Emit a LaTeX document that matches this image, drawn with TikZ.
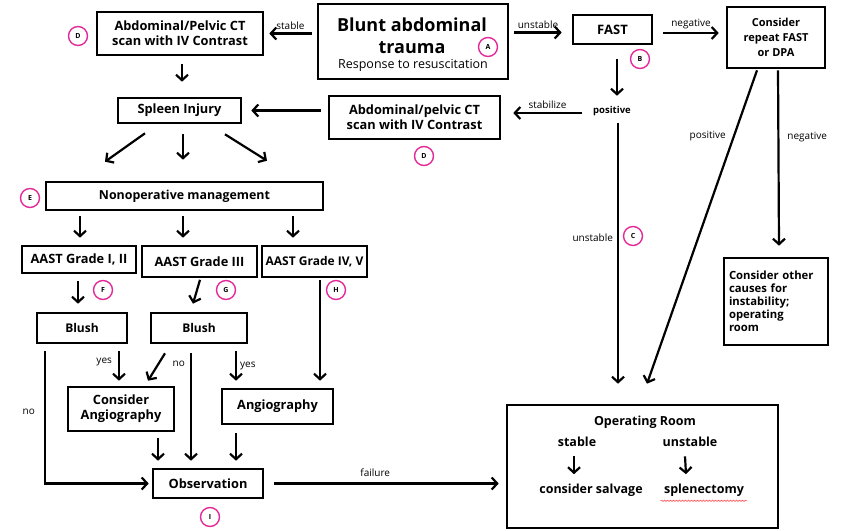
\documentclass[tikz,border=0pt]{standalone}
\usepackage{fontspec}
\setmainfont{Open Sans}
\usetikzlibrary{arrows.meta, decorations.pathmorphing}
\definecolor{tagpink}{RGB}{226, 42, 152}

\begin{document}
\begin{tikzpicture}[x=1pt, y=-1pt,
    box/.style={draw, line width=2.6pt, align=center, inner sep=0pt, font=\fontsize{12.8}{15}\selectfont\bfseries},
    arr/.style={line width=2.2pt, -{Straight Barb[length=5.5pt, width=12pt]}},
    lbl/.style={font=\fontsize{10}{11}\selectfont, inner sep=1pt},
    ortext/.style={font=\fontsize{12.5}{14}\selectfont\bfseries},
    tag/.style={circle, draw=tagpink, line width=1.4pt, minimum size=19pt, inner sep=0pt, font=\fontsize{7}{7}\selectfont\bfseries}]
\useasboundingbox (0,0) rectangle (848,530);

% boxes
\node[box, minimum width=166pt, minimum height=43pt] (ct1) at (180,33.5) {Abdominal/Pelvic CT\\scan with IV Contrast};
\node[box, minimum width=190pt, minimum height=75pt] (blunt) at (413,41.5) {};
\node[font=\fontsize{18}{22}\selectfont\bfseries, align=center] (bluntttl) at (412,36) {Blunt abdominal\\trauma};
\node[font=\fontsize{12.5}{14}\selectfont] (bluntsub) at (413,65) {Response to resuscitation};
\node[box, minimum width=79pt, minimum height=29pt, font=\fontsize{13}{15}\selectfont\bfseries] (fast) at (612.5,29.5) {FAST};
\node[box, minimum width=98pt, minimum height=61pt, font=\fontsize{11}{15}\selectfont\bfseries] (rep) at (776,37.5) {Consider\\repeat FAST\\or DPA};
\node[font=\fontsize{9.5}{10}\selectfont\bfseries] (pos) at (612,111) {positive};
\node[box, minimum width=171pt, minimum height=43pt] (ct2) at (414.5,117.5) {Abdominal/pelvic CT\\scan with IV Contrast};
\node[box, minimum width=123pt, minimum height=25pt] (spleen) at (179.5,110.5) {Spleen Injury};
\node[box, minimum width=277pt, minimum height=28pt, font=\fontsize{12.4}{14}\selectfont\bfseries] (nonop) at (184.5,196) {Nonoperative management};
\node[box, minimum width=114pt, minimum height=27pt] (g12) at (79,259.5) {AAST Grade I, II};
\node[box, minimum width=115pt, minimum height=31pt] (g3) at (199.5,261.5) {AAST Grade III};
\node[box, minimum width=105pt, minimum height=31pt, font=\fontsize{12}{15}\selectfont\bfseries] (g45) at (314.5,261.5) {AAST Grade IV, V};
\node[box, minimum width=90pt, minimum height=30pt, font=\fontsize{12}{15}\selectfont\bfseries] (blush1) at (82,328) {Blush};
\node[box, minimum width=96pt, minimum height=30pt, font=\fontsize{12}{15}\selectfont\bfseries] (blush2) at (199,328) {Blush};
\node[box, minimum width=106pt, minimum height=44pt] (cangio) at (121,409) {Consider\\Angiography};
\node[box, minimum width=111pt, minimum height=35pt] (angio) at (277.5,406.5) {Angiography};
\node[box, minimum width=110pt, minimum height=29pt] (obs) at (208,483.5) {Observation};
\node[box, minimum width=104pt, minimum height=87pt, text width=94pt, align=left, font=\fontsize{11.3}{13}\selectfont\bfseries] (other) at (776,301.5) {Consider other\\causes for\\instability;\\operating\\room};
\node[box, minimum width=271pt, minimum height=123pt] (oroom) at (642.5,466.5) {};
\node[ortext] (ortitle) at (645,422) {Operating Room};
\node[ortext] (orstab) at (577,442) {stable};
\node[ortext] (orunst) at (690,442) {unstable};
\node[ortext] (salv) at (591,490) {consider salvage};
\node[ortext] (splen) at (704,490) {splenectomy};
\draw[red!75, line width=0.5pt, decorate, decoration={snake, amplitude=0.7pt, segment length=3pt}]
    ([yshift=-1pt]splen.south west) -- ([yshift=-1pt]splen.south east);

% tags
\node[tag] (tagA) at (488,47) {A};
\node[tag] (tagB) at (640,59) {B};
\node[tag] (tagC) at (633,236) {C};
\node[tag] (tagD) at (78,36) {D};
\node[tag] (tagDb) at (424,156) {D};
\node[tag] (tagE) at (30,198) {E};
\node[tag] (tagF) at (103,290) {F};
\node[tag] (tagG) at (226,290) {G};
\node[tag] (tagH) at (336,290) {H};
\node[tag] (tagI) at (210,517) {I};

% top row
\draw[arr] ([xshift=-5pt]ct1.east -| blunt.west) -- ([xshift=5pt]ct1.east) node[midway, above=2pt, lbl] {stable};
\draw[arr] ([xshift=5pt,yshift=-3pt]fast.west -| blunt.east) -- ([xshift=-10pt,yshift=-3pt]fast.west) node[midway, above=2pt, lbl] {unstable};
\draw[arr] ([xshift=10pt,yshift=-3.5pt]fast.east) -- ([xshift=-7pt,yshift=-3.5pt]fast.east -| rep.west) node[midway, above=2pt, lbl] {negative};
\draw[arr] ([xshift=4.5pt,yshift=-14pt]fast.south) -- ([xshift=5pt,yshift=7pt]pos.north);
\draw[arr] ([xshift=-8pt,yshift=-2pt]pos.west) -- ([xshift=12pt,yshift=-2pt]pos.west -| ct2.east) node[midway, above=2pt, lbl] {stabilize};
\draw[arr] ([xshift=-7pt]ct2.west |- spleen.east) -- ([xshift=9pt]spleen.east);
\draw[arr] ([xshift=2pt,yshift=-8pt]ct1.south) -- ([xshift=2.5pt,yshift=15pt]spleen.north);

% spleen to grades
\draw[arr] ([xshift=-34.5pt,yshift=-9pt]spleen.south) -- ([xshift=-79.5pt,yshift=19pt]nonop.north);
\draw[arr] ([xshift=3.5pt,yshift=-10pt]spleen.south) -- ([xshift=-1.5pt,yshift=21pt]nonop.north);
\draw[arr] ([xshift=45.5pt,yshift=-10pt]spleen.south) -- ([xshift=82.5pt,yshift=20pt]nonop.north);
\draw[arr] ([xshift=1pt,yshift=-5pt]g12.north |- nonop.south) -- ([xshift=1pt,yshift=7pt]g12.north);
\draw[arr] ([xshift=-16.5pt,yshift=-5pt]g3.north |- nonop.south) -- ([xshift=-16.5pt,yshift=7pt]g3.north);
\draw[arr] ([xshift=-21.5pt,yshift=-5pt]g45.north |- nonop.south) -- ([xshift=-21.5pt,yshift=7pt]g45.north);
\draw[arr] ([xshift=-1pt,yshift=-7pt]g12.south) -- ([xshift=-4pt,yshift=8pt]blush1.north);
\draw[arr] ([xshift=0.5pt,yshift=-1.5pt]g3.south) -- ([xshift=-6pt,yshift=8pt]blush2.north);
\draw[arr] ([xshift=5.5pt,yshift=-1.5pt]g45.south) -- ([xshift=5.5pt,yshift=7pt]g45.south |- angio.north);

% blush
\draw[arr] ([xshift=37pt,yshift=-7pt]blush1.south) -- ([xshift=-2pt,yshift=5pt]cangio.north) node[pos=0.37, left=5pt, lbl] {yes};
\draw[arr] ([xshift=-37pt,yshift=-7pt]blush1.south) |- ([xshift=-3pt]obs.west) node[pos=0.23, left=8pt, lbl] {no};
\draw[arr] ([xshift=-34pt,yshift=-9pt]blush2.south) -- ([xshift=27pt,yshift=5pt]cangio.north);
\draw[arr] ([xshift=-8pt,yshift=-9pt]blush2.south) -- ([xshift=-17pt,yshift=7pt]obs.north) node[pos=0.1, left=4pt, lbl] {no};
\draw[arr] ([xshift=37pt,yshift=-7pt]blush2.south) -- ([xshift=-41.5pt,yshift=7pt]angio.north) node[pos=0.5, right=2pt, lbl] {yes};
\draw[arr] ([xshift=37pt,yshift=-6pt]cangio.south) -- ([xshift=-50pt,yshift=7pt]obs.north);
\draw[arr] ([xshift=-41.5pt,yshift=-8pt]angio.south) -- ([xshift=28pt,yshift=7pt]obs.north);
\draw[arr] ([xshift=10pt]obs.east) -- ([xshift=-7pt]obs.east -| oroom.west) node[pos=0.45, above=5pt, lbl] {failure};

% right side
\draw[arr] ([xshift=6pt,yshift=-3.5pt]pos.south) -- ([xshift=-24.5pt,yshift=20pt]oroom.north) node[pos=0.44, left=3pt, lbl] {unstable};
\draw[arr] ([xshift=-19pt,yshift=-1pt]rep.south) -- ([xshift=4.5pt,yshift=20pt]oroom.north) node[pos=0.21, left=6pt, lbl] {positive};
\draw[arr] ([xshift=2pt,yshift=-1pt]rep.south) -- ([xshift=3pt,yshift=11pt]other.north) node[pos=0.38, right=7pt, lbl] {negative};
\draw[arr] ([xshift=-3pt,yshift=-6pt]orstab.south) -- ([xshift=-17pt,yshift=6pt]salv.north);
\draw[arr] ([xshift=-5pt,yshift=-6pt]orunst.south) -- ([xshift=-18pt,yshift=6pt]splen.north);
\end{tikzpicture}
\end{document}
